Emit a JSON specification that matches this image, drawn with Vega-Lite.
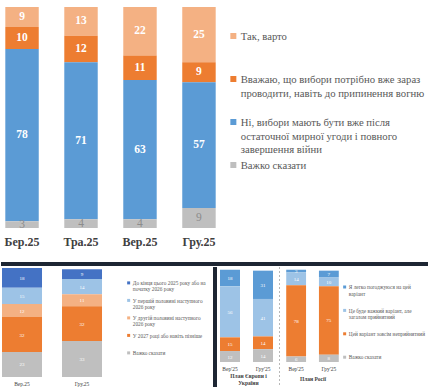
{
  "$schema": "https://vega.github.io/schema/vega-lite/v6.json",
  "padding": {"left": 0, "right": 0, "top": 7, "bottom": 0},
  "background": "white",
  "config": {
    "view": {"stroke": null},
    "font": "Liberation Serif",
    "text": {"font": "Liberation Serif"},
    "axis": {"labelFont": "Liberation Serif", "titleFont": "Liberation Serif"},
    "legend": {"labelFont": "Liberation Serif", "titleFont": "Liberation Serif"}
  },
  "datasets": {
    "top": [
      {"m": "Бер.25", "a": "Так, варто", "v": 9, "o": 4},
      {"m": "Бер.25", "a": "Вважаю, що вибори потрібно вже зараз проводити, навіть до припинення вогню", "v": 10, "o": 3},
      {"m": "Бер.25", "a": "Ні, вибори мають бути вже після остаточної мирної угоди і повного завершення війни", "v": 78, "o": 2},
      {"m": "Бер.25", "a": "Важко сказати", "v": 3, "o": 1},
      {"m": "Тра.25", "a": "Так, варто", "v": 13, "o": 4},
      {"m": "Тра.25", "a": "Вважаю, що вибори потрібно вже зараз проводити, навіть до припинення вогню", "v": 12, "o": 3},
      {"m": "Тра.25", "a": "Ні, вибори мають бути вже після остаточної мирної угоди і повного завершення війни", "v": 71, "o": 2},
      {"m": "Тра.25", "a": "Важко сказати", "v": 4, "o": 1},
      {"m": "Вер.25", "a": "Так, варто", "v": 22, "o": 4},
      {"m": "Вер.25", "a": "Вважаю, що вибори потрібно вже зараз проводити, навіть до припинення вогню", "v": 11, "o": 3},
      {"m": "Вер.25", "a": "Ні, вибори мають бути вже після остаточної мирної угоди і повного завершення війни", "v": 63, "o": 2},
      {"m": "Вер.25", "a": "Важко сказати", "v": 4, "o": 1},
      {"m": "Гру.25", "a": "Так, варто", "v": 25, "o": 4},
      {"m": "Гру.25", "a": "Вважаю, що вибори потрібно вже зараз проводити, навіть до припинення вогню", "v": 9, "o": 3},
      {"m": "Гру.25", "a": "Ні, вибори мають бути вже після остаточної мирної угоди і повного завершення війни", "v": 57, "o": 2},
      {"m": "Гру.25", "a": "Важко сказати", "v": 9, "o": 1}
    ],
    "bl": [
      {"m": "Вер.25", "w": "До кінця цього 2025 року або на початку 2026 року", "v": 18, "o": 5},
      {"m": "Вер.25", "w": "У першій половині наступного 2026 року", "v": 15, "o": 4},
      {"m": "Вер.25", "w": "У другій половині наступного 2026 року", "v": 12, "o": 3},
      {"m": "Вер.25", "w": "У 2027 році або навіть пізніше", "v": 32, "o": 2},
      {"m": "Вер.25", "w": "Важко сказати", "v": 23, "o": 1},
      {"m": "Гру.25", "w": "До кінця цього 2025 року або на початку 2026 року", "v": 9, "o": 5},
      {"m": "Гру.25", "w": "У першій половині наступного 2026 року", "v": 14, "o": 4},
      {"m": "Гру.25", "w": "У другій половині наступного 2026 року", "v": 11, "o": 3},
      {"m": "Гру.25", "w": "У 2027 році або навіть пізніше", "v": 32, "o": 2},
      {"m": "Гру.25", "w": "Важко сказати", "v": 33, "o": 1}
    ],
    "br1": [
      {"m": "Вер'25", "p": "Я легко погоджуюся на цей варіант", "v": 18, "o": 4},
      {"m": "Вер'25", "p": "Це буде важкий варіант, але загалом прийнятний", "v": 56, "o": 3},
      {"m": "Вер'25", "p": "Цей варіант зовсім неприйнятний", "v": 15, "o": 2},
      {"m": "Вер'25", "p": "Важко сказати", "v": 12, "o": 1},
      {"m": "Гру'25", "p": "Я легко погоджуюся на цей варіант", "v": 31, "o": 4},
      {"m": "Гру'25", "p": "Це буде важкий варіант, але загалом прийнятний", "v": 41, "o": 3},
      {"m": "Гру'25", "p": "Цей варіант зовсім неприйнятний", "v": 14, "o": 2},
      {"m": "Гру'25", "p": "Важко сказати", "v": 14, "o": 1}
    ],
    "br2": [
      {"m": "Вер'25", "p": "Я легко погоджуюся на цей варіант", "v": 3, "o": 4},
      {"m": "Вер'25", "p": "Це буде важкий варіант, але загалом прийнятний", "v": 14, "o": 3},
      {"m": "Вер'25", "p": "Цей варіант зовсім неприйнятний", "v": 78, "o": 2},
      {"m": "Вер'25", "p": "Важко сказати", "v": 6, "o": 1},
      {"m": "Гру'25", "p": "Я легко погоджуюся на цей варіант", "v": 7, "o": 4},
      {"m": "Гру'25", "p": "Це буде важкий варіант, але загалом прийнятний", "v": 10, "o": 3},
      {"m": "Гру'25", "p": "Цей варіант зовсім неприйнятний", "v": 75, "o": 2},
      {"m": "Гру'25", "p": "Важко сказати", "v": 8, "o": 1}
    ]
  },
  "spacing": 14,
  "resolve": {"scale": {"color": "independent"}},
  "vconcat": [
    {
      "width": 219,
      "height": 221,
      "data": {"name": "top"},
      "encoding": {
        "x": {"field": "m", "type": "nominal", "sort": ["Бер.25", "Тра.25", "Вер.25", "Гру.25"], "scale": {"paddingInner": 0.433, "paddingOuter": 0.073}, "axis": {"title": null, "labelAngle": 0, "domain": false, "ticks": false, "labelPadding": 8, "labelFontSize": 12, "labelFontWeight": "bold", "labelColor": "#404040"}},
        "y": {"field": "v", "type": "quantitative", "stack": "zero", "scale": {"domain": [0, 100], "nice": false}, "axis": null},
        "order": {"field": "o", "type": "quantitative"}
      },
      "layer": [
        {
          "mark": {"type": "bar"},
          "encoding": {
            "color": {
              "field": "a", "type": "nominal",
              "scale": {"domain": ["Так, варто", "Вважаю, що вибори потрібно вже зараз проводити, навіть до припинення вогню", "Ні, вибори мають бути вже після остаточної мирної угоди і повного завершення війни", "Важко сказати"], "range": ["#F4B183", "#ED7D31", "#5B9BD5", "#BFBFBF"]},
              "legend": {
                "orient": "none", "legendX": 227, "legendY": 20, "padding": 0, "title": null,
                "symbolType": "square", "symbolSize": 36, "symbolStrokeWidth": 0,
                "labelFontSize": 10.7, "labelColor": "#595959", "labelBaseline": "top", "labelOffset": 2, "labelLimit": 400, "rowPadding": -5,
                "labelExpr": "datum.label == 'Так, варто' ? ['Так, варто', '', ''] : datum.label == 'Важко сказати' ? ['Важко сказати'] : indexof(datum.label, 'Вважаю') == 0 ? ['Вважаю, що вибори потрібно вже зараз', 'проводити, навіть до припинення вогню', ''] : ['Ні, вибори мають бути вже після', 'остаточної мирної угоди і повного', 'завершення війни']",
                "encode": {"symbols": {"update": {"y": {"value": 9}}}, "labels": {"update": {"lineHeight": {"value": 13.5}}}}
              }
            }
          }
        },
        {
          "mark": {"type": "text", "fontSize": 11.5, "fontWeight": "bold", "color": "white"},
          "encoding": {
            "y": {"field": "v", "type": "quantitative", "stack": "zero", "bandPosition": 0.5},
            "detail": {"field": "a"},
            "text": {"field": "v", "type": "quantitative"},
            "opacity": {"condition": {"test": "datum.a == 'Важко сказати'", "value": 0}, "value": 1}
          }
        },
        {
          "mark": {"type": "text", "fontSize": 11.5, "fontWeight": "normal", "color": "#8c8c8c"},
          "encoding": {
            "y": {"field": "v", "type": "quantitative", "stack": "zero", "bandPosition": 0.5},
            "detail": {"field": "a"},
            "text": {"field": "v", "type": "quantitative"},
            "opacity": {"condition": {"test": "datum.a == 'Важко сказати'", "value": 1}, "value": 0}
          }
        }
      ]
    },
    {
      "spacing": 0,
      "vconcat": [
        {
          "width": 428, "height": 4,
          "view": {"fill": "#1d2633", "stroke": null},
          "data": {"values": [{}]},
          "mark": {"type": "rule", "opacity": 0},
          "encoding": {}
        },
        {
          "spacing": 0,
          "bounds": "flush",
          "resolve": {"scale": {"color": "independent"}},
          "hconcat": [
            {
              "width": 212, "height": 110,
              "data": {"name": "bl"},
              "encoding": {
                "x": {"field": "m", "type": "nominal", "sort": ["Вер.25", "Гру.25"], "scale": {"paddingInner": 0.3333, "paddingOuter": 0.9333, "align": 0.009}, "axis": {"title": null, "labelAngle": 0, "domain": false, "ticks": false, "labelPadding": 4, "labelFontSize": 5.5, "labelColor": "#404040"}},
                "y": {"field": "v", "type": "quantitative", "stack": "zero", "scale": {"domain": [0, 101], "nice": false}, "axis": null},
                "order": {"field": "o", "type": "quantitative"}
              },
              "layer": [
                {
                  "mark": {"type": "bar"},
                  "encoding": {
                    "color": {
                      "field": "w", "type": "nominal",
                      "scale": {"domain": ["До кінця цього 2025 року або на початку 2026 року", "У першій половині наступного 2026 року", "У другій половині наступного 2026 року", "У 2027 році або навіть пізніше", "Важко сказати"], "range": ["#4472C4", "#9DC3E6", "#F4B183", "#ED7D31", "#BFBFBF"]},
                      "legend": {
                        "orient": "none", "legendX": 125, "legendY": 11.5, "padding": 0, "title": null,
                        "symbolType": "square", "symbolSize": 9, "symbolStrokeWidth": 0,
                        "labelFontSize": 5.3, "labelColor": "#595959", "labelBaseline": "top", "labelOffset": 1.5, "labelLimit": 200, "rowPadding": 2.5,
                        "labelExpr": "datum.label == 'До кінця цього 2025 року або на початку 2026 року' ? ['До кінця цього 2025 року або на', 'початку 2026 року'] : datum.label == 'У першій половині наступного 2026 року' ? ['У першій половині наступного', '2026 року'] : datum.label == 'У другій половині наступного 2026 року' ? ['У другій половині наступного', '2026 року'] : [datum.label, '']",
                        "encode": {"symbols": {"update": {"y": {"value": 4.4}}}, "labels": {"update": {"lineHeight": {"value": 6.3}}}}
                      }
                    }
                  }
                },
                {
                  "mark": {"type": "text", "fontSize": 5, "color": "white"},
                  "encoding": {
                    "y": {"field": "v", "type": "quantitative", "stack": "zero", "bandPosition": 0.5},
                    "detail": {"field": "w"},
                    "text": {"field": "v", "type": "quantitative"}
                  }
                }
              ]
            },
            {
              "width": 4, "height": 123,
              "view": {"fill": "#1d2633", "stroke": null},
              "data": {"values": [{}]},
              "mark": {"type": "rule", "opacity": 0},
              "encoding": {}
            },
            {
              "width": 62, "height": 95,
              "data": {"name": "br1"},
              "encoding": {
                "x": {"field": "m", "type": "nominal", "sort": ["Вер'25", "Гру'25"], "scale": {"paddingInner": 0.394, "paddingOuter": 0.136, "align": 0.333}, "axis": {"title": ["План Європи і", "України"], "titleFontSize": 5.5, "titleFontWeight": "bold", "titleColor": "#404040", "titlePadding": 2, "titleLineHeight": 6.5, "labelAngle": 0, "domain": false, "ticks": false, "labelPadding": 4, "labelFontSize": 5.5, "labelColor": "#404040"}},
                "y": {"field": "v", "type": "quantitative", "stack": "zero", "scale": {"domain": [0, 104], "nice": false}, "axis": null},
                "order": {"field": "o", "type": "quantitative"}
              },
              "layer": [
                {
                  "mark": {"type": "bar"},
                  "encoding": {
                    "color": {
                      "field": "p", "type": "nominal",
                      "scale": {"domain": ["Я легко погоджуюся на цей варіант", "Це буде важкий варіант, але загалом прийнятний", "Цей варіант зовсім неприйнятний", "Важко сказати"], "range": ["#5B9BD5", "#9DC3E6", "#ED7D31", "#BFBFBF"]},
                      "legend": null
                    }
                  }
                },
                {
                  "mark": {"type": "text", "fontSize": 5, "color": "white"},
                  "encoding": {
                    "y": {"field": "v", "type": "quantitative", "stack": "zero", "bandPosition": 0.5},
                    "detail": {"field": "p"},
                    "text": {"field": "v", "type": "quantitative"}
                  }
                }
              ]
            },
            {
              "width": 1, "height": 123,
              "data": {"values": [{"d": "divider"}]},
              "mark": {"type": "rule", "color": "#a6a6a6", "strokeDash": [2, 2], "strokeWidth": 0.8},
              "encoding": {"x": {"field": "d", "type": "nominal", "axis": null}}
            },
            {
              "width": 65, "height": 95,
              "data": {"name": "br2"},
              "encoding": {
                "x": {"field": "m", "type": "nominal", "sort": ["Вер'25", "Гру'25"], "scale": {"paddingInner": 0.394, "paddingOuter": 0.19}, "axis": {"title": "План Росії", "titleFontSize": 5.5, "titleFontWeight": "bold", "titleColor": "#404040", "titlePadding": 5, "labelAngle": 0, "domain": false, "ticks": false, "labelPadding": 4, "labelFontSize": 5.5, "labelColor": "#404040"}},
                "y": {"field": "v", "type": "quantitative", "stack": "zero", "scale": {"domain": [0, 104], "nice": false}, "axis": null},
                "order": {"field": "o", "type": "quantitative"}
              },
              "layer": [
                {
                  "mark": {"type": "bar"},
                  "encoding": {
                    "color": {
                      "field": "p", "type": "nominal",
                      "scale": {"domain": ["Я легко погоджуюся на цей варіант", "Це буде важкий варіант, але загалом прийнятний", "Цей варіант зовсім неприйнятний", "Важко сказати"], "range": ["#5B9BD5", "#9DC3E6", "#ED7D31", "#BFBFBF"]},
                      "legend": {
                        "orient": "none", "legendX": 62, "legendY": 15.6, "padding": 0, "title": null,
                        "symbolType": "square", "symbolSize": 9, "symbolStrokeWidth": 0,
                        "labelFontSize": 5.3, "labelColor": "#595959", "labelBaseline": "top", "labelOffset": 1.5, "labelLimit": 200, "rowPadding": 8.4,
                        "labelExpr": "datum.label == 'Я легко погоджуюся на цей варіант' ? ['Я легко погоджуюся на цей', 'варіант'] : datum.label == 'Це буде важкий варіант, але загалом прийнятний' ? ['Це буде важкий варіант, але', 'загалом прийнятний'] : [datum.label, '']",
                        "encode": {"symbols": {"update": {"y": {"value": 4.4}}}, "labels": {"update": {"lineHeight": {"value": 6.3}}}}
                      }
                    }
                  }
                },
                {
                  "mark": {"type": "text", "fontSize": 5, "color": "white"},
                  "encoding": {
                    "y": {"field": "v", "type": "quantitative", "stack": "zero", "bandPosition": 0.5},
                    "detail": {"field": "p"},
                    "text": {"field": "v", "type": "quantitative"}
                  }
                }
              ]
            }
          ]
        }
      ]
    }
  ]
}
